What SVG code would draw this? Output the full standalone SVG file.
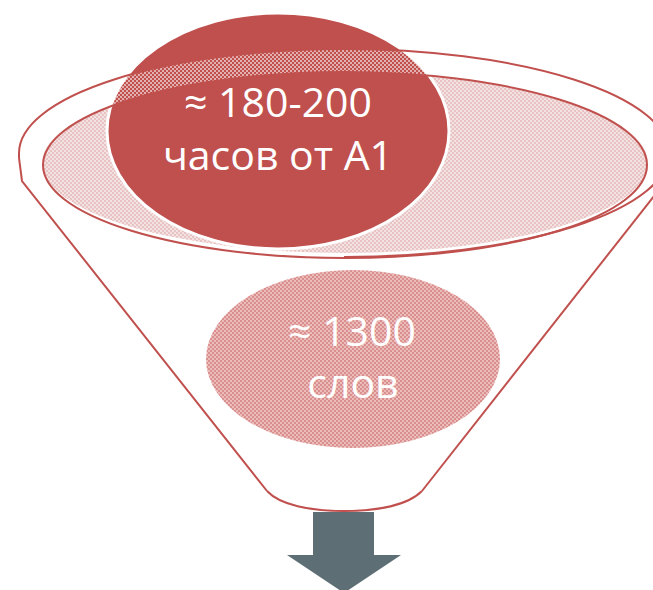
<svg xmlns="http://www.w3.org/2000/svg" width="653" height="590" viewBox="0 0 653 590">
  <defs>
    <pattern id="pInner" width="4" height="4" patternUnits="userSpaceOnUse">
      <rect width="4" height="4" fill="#f4e2e2"/>
      <rect width="2" height="2" fill="#e7c3c3"/>
      <rect x="2" y="2" width="2" height="2" fill="#e7c3c3"/>
    </pattern>
    <pattern id="pBottom" width="4" height="4" patternUnits="userSpaceOnUse">
      <rect width="4" height="4" fill="#ecbcbb"/>
      <rect width="2" height="2" fill="#d98f8d"/>
      <rect x="2" y="2" width="2" height="2" fill="#d98f8d"/>
    </pattern>
    <pattern id="pRim" width="4" height="4" patternUnits="userSpaceOnUse">
      <rect width="2" height="2" fill="#ffffff" fill-opacity="0.55"/>
      <rect x="2" y="2" width="2" height="2" fill="#ffffff" fill-opacity="0.55"/>
    </pattern>
  </defs>
  <style>
    .line { fill: none; stroke: #c0504d; stroke-width: 2; }
    .lbl { font-family: "Open Sans", "Liberation Sans", sans-serif; font-size: 41px; fill: #ffffff; text-anchor: middle; }
  </style>

  <g id="funnel-inner">
    <ellipse cx="345" cy="163" rx="303" ry="90" fill="url(#pInner)"/>
  </g>

  <g id="top-circle">
    <ellipse cx="278" cy="131" rx="171" ry="118" fill="#c0504d" stroke="#ffffff" stroke-width="3"/>
  </g>

  <g id="funnel">
    <path d="M19,153 A325,104 0 0 0 669,153 A325,104 0 0 0 19,153 Z M647,165 A302,93 0 0 0 43,165 A302,93 0 0 0 647,165 Z" fill="url(#pRim)" fill-rule="evenodd"/>
    <ellipse class="line" cx="345" cy="165" rx="302" ry="93"/>
    <path class="line" d="M267,491 L22,181 L19,158 L19,153 A325,104 0 0 1 669,153 A325,104 0 0 1 344,257"/>
    <path class="line" d="M680,163 L422,491"/>
    <path class="line" d="M267,491 C280,505 310,511 344,511 C378,511 408,505 422,491"/>
  </g>

  <g id="top-label">
    <text class="lbl" x="278" y="117">≈ 180-200</text>
    <text class="lbl" x="278" y="170">часов от А1</text>
  </g>

  <g id="bottom-circle">
    <ellipse cx="353" cy="359" rx="147" ry="89" fill="url(#pBottom)"/>
    <text class="lbl" x="352" y="346">≈ 1300</text>
    <text class="lbl" x="353" y="398">слов</text>
  </g>

  <g id="connectors">
    <polygon points="313,512 374,512 374,555 401,555 344,593 287,555 313,555" fill="#5d6e74"/>
  </g>
</svg>
